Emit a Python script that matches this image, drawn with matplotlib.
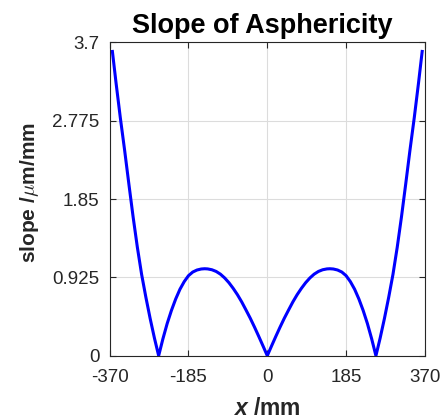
import matplotlib
matplotlib.use("Agg")
import matplotlib.pyplot as plt

plt.rcParams['font.family'] = ['Liberation Sans', 'DejaVu Sans']
plt.rcParams['mathtext.fontset'] = 'custom'
plt.rcParams['mathtext.it'] = 'Liberation Sans:italic:bold'
plt.rcParams['mathtext.rm'] = 'Liberation Sans:bold'

# Surface slope deviation across the aperture (x in mm, slope in um/mm)
x_mm = [-364, -355, -345, -335, -325, -315, -305, -295, -285, -275, -265,
        -255, -245, -235, -225, -215, -205, -195, -185, -175, -165, -155,
        -147, -140, -130, -120, -110, -100, -90, -80, -70, -60, -50, -40,
        -30, -20, -10, 0,
        10, 20, 30, 40, 50, 60, 70, 80, 90, 100, 110, 120, 130, 140, 147,
        155, 165, 175, 185, 195, 205, 215, 225, 235, 245, 255,
        265, 275, 285, 295, 305, 315, 325, 335, 345, 355, 364]
slope = [3.61, 3.22, 2.81, 2.43, 2.03, 1.64, 1.28, 0.96, 0.69, 0.44, 0.21,
         0.00, 0.20, 0.38, 0.535, 0.67, 0.785, 0.875, 0.945, 0.988, 1.012, 1.024,
         1.027, 1.025, 1.015, 0.995, 0.963, 0.918, 0.862, 0.795, 0.72, 0.635, 0.54, 0.443,
         0.338, 0.228, 0.115, 0.00,
         0.115, 0.228, 0.338, 0.443, 0.54, 0.635, 0.72, 0.795, 0.862, 0.918, 0.963, 0.995,
         1.015, 1.025, 1.027,
         1.024, 1.012, 0.988, 0.945, 0.875, 0.785, 0.67, 0.535, 0.38, 0.20, 0.00,
         0.21, 0.44, 0.69, 0.96, 1.28, 1.64, 2.03, 2.43, 2.81, 3.22, 3.61]

x_ticks = [-370, -185, 0, 185, 370]
y_ticks = [0, 0.925, 1.85, 2.775, 3.7]
y_tick_labels = ['0', '0.925', '1.85', '2.775', '3.7']

axis_color = '#262626'

fig = plt.figure(figsize=(4.44, 4.19), dpi=100)
ax = fig.add_axes([0.247, 0.151, 0.710, 0.748])

ax.plot(x_mm, slope, color='#0000ff', linewidth=2.2,
        solid_joinstyle='round', solid_capstyle='butt')

ax.set_xlim(-370, 370)
ax.set_ylim(0, 3.7)
ax.set_xticks(x_ticks)
ax.set_xticklabels([str(t) for t in x_ticks])
ax.set_yticks(y_ticks)
ax.set_yticklabels(y_tick_labels)

ax.grid(True, color='#dcdcdc', linewidth=0.8)
ax.set_axisbelow(True)
ax.tick_params(direction='in', length=4, width=0.8, colors=axis_color,
               labelsize=13.5, top=True, right=True)
ax.tick_params(axis='x', pad=9.5)
ax.tick_params(axis='y', pad=7.5)
for s in ax.spines.values():
    s.set_color(axis_color)
    s.set_linewidth(0.8)

ax.set_title('Slope of Asphericity', fontsize=19.5, fontweight='bold',
             pad=7, x=0.485)
ax.set_xlabel(r'$x$ /mm', fontsize=16.5, fontweight='bold', color=axis_color)
ax.xaxis.set_label_coords(0.5, -0.131)
ax.set_ylabel(r'slope /$\mu$m/mm', fontsize=15, fontweight='bold',
              color=axis_color, math_fontfamily='cm')
ax.yaxis.set_label_coords(-0.217, 0.519)

fig.savefig('out.png', dpi=100)
